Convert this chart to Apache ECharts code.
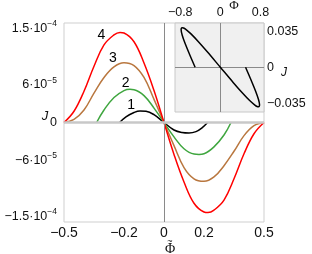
<!DOCTYPE html>
<html><head><meta charset="utf-8">
<script src="https://cdn.jsdelivr.net/npm/echarts@6/dist/echarts.min.js"></script>
<style>html,body{margin:0;padding:0;background:#fff}#c{width:312px;height:254px}</style>
</head><body><div id="c"></div>
<script>
// ---- main chart data ----
const phi4 = [-0.5,-0.45,-0.4,-0.35,-0.3,-0.25,-0.22,-0.2,-0.15,-0.1,-0.05,0,0.05,0.1,0.15,0.2,0.22,0.25,0.3,0.35,0.4,0.45,0.5];
const j4 = [0,1.8e-5,5.0e-5,9.0e-5,1.24e-4,1.40e-4,1.44e-4,1.43e-4,1.29e-4,0.95e-4,0.51e-4,0,-0.51e-4,-0.95e-4,-1.29e-4,-1.43e-4,-1.44e-4,-1.40e-4,-1.24e-4,-0.90e-4,-0.50e-4,-0.18e-4,0];
const phi3 = [-0.5,-0.45,-0.4,-0.35,-0.3,-0.25,-0.2,-0.15,-0.1,-0.05,0,0.05,0.1,0.15,0.2,0.25,0.3,0.35,0.4,0.45,0.5];
const j3 = [0,0.5e-5,2.0e-5,4.7e-5,7.2e-5,8.9e-5,9.55e-5,9.1e-5,7.2e-5,3.7e-5,0,-3.7e-5,-7.2e-5,-9.0e-5,-9.4e-5,-8.7e-5,-6.9e-5,-4.6e-5,-2.1e-5,-0.5e-5,0];
const phi2 = [-0.337,-0.3,-0.25,-0.2,-0.17,-0.15,-0.1,-0.05,0,0.05,0.1,0.15,0.175,0.2,0.25,0.3,0.335];
const j2 = [0,2.0e-5,4.0e-5,5.1e-5,5.3e-5,5.25e-5,4.3e-5,2.3e-5,0,-2.3e-5,-4.2e-5,-5.05e-5,-5.1e-5,-5.0e-5,-3.9e-5,-2.0e-5,0];
const phi1 = [-0.222,-0.19,-0.15,-0.12,-0.09,-0.05,0,0.05,0.09,0.125,0.16,0.19,0.218];
const j1 = [0,0.9e-5,1.6e-5,1.85e-5,1.8e-5,1.25e-5,0,-1.2e-5,-1.6e-5,-1.68e-5,-1.45e-5,-0.85e-5,0];

const curveNames = ['1','2','3','4'];
const curveLabelPhi = [-0.164,-0.192,-0.255,-0.313];
const curveLabelJ = [2.8e-5,6.36e-5,1.035e-4,1.40e-4];

const xTicks = [-0.5,-0.2,0,0.2,0.5];
const yTicks = [-1.5e-4,-6e-5,0,6e-5,1.5e-4];
const yTickMant = ['−1.5','−6','0','6','1.5'];
const yTickExp = ['−4','−5','','−5','−4'];

// ---- inset data ----
const insetPhi = [-0.503,-0.617,-0.702,-0.760,-0.782,-0.777,-0.761,-0.733,-0.695,-0.585,-0.437,-0.260,0,0.260,0.437,0.585,0.695,0.733,0.761,0.777,0.782,0.760,0.702,0.617,0.503];
const insetJ = [0,0.0129,0.0230,0.0311,0.0364,0.0379,0.0385,0.0382,0.0371,0.0324,0.0248,0.0150,0,-0.0150,-0.0248,-0.0324,-0.0371,-0.0382,-0.0385,-0.0379,-0.0364,-0.0311,-0.0230,-0.0129,0];
const insetXTicks = [-0.8,0,0.8];
const insetYTicks = [-0.035,0,0.035];

const zip = (a,b) => a.map((v,i)=>[v,b[i]]);
const fmtNum = v => (v===0?'0':String(v)).replace('-','−');
const sansF = "'Liberation Sans', Arial, sans-serif";
const serifF = "'Liberation Serif', 'Times New Roman', serif";

const colors = {'1':'#000000','2':'#3fa63f','3':'#b9773f','4':'#ff0000'};
const curveData = {'1':zip(phi1,j1),'2':zip(phi2,j2),'3':zip(phi3,j3),'4':zip(phi4,j4)};

const chart = echarts.init(document.getElementById('c'), null, {renderer:'canvas'});

const series = [];
series.push({type:'line', xAxisIndex:0, yAxisIndex:0, data:[], z:1, silent:true,
  markLine:{silent:true, symbol:['none','none'], label:{show:false}, animation:false,
    data:[{xAxis:0, lineStyle:{color:'#8a8a8a', width:1, type:'solid'}},
          {yAxis:0, lineStyle:{color:'#c8c8c8', width:2.5, type:'solid'}}]}});
curveNames.forEach((n,i)=>{
  series.push({type:'line', name:n, xAxisIndex:0, yAxisIndex:0, data:curveData[n],
    showSymbol:false, smooth:0.4, z:3,
    lineStyle:{color:colors[n], width:1.5}, itemStyle:{color:colors[n]},
    markPoint:{symbol:'circle', symbolSize:0, silent:true, animation:false,
      label:{show:true, position:'inside', formatter:n, color:'#000', fontSize:14, fontFamily:sansF},
      data:[{coord:[curveLabelPhi[i], curveLabelJ[i]]}]}});
});
series.push({type:'line', xAxisIndex:1, yAxisIndex:1, data:[], z:4, silent:true,
  markLine:{silent:true, symbol:['none','none'], label:{show:false}, animation:false,
    lineStyle:{color:'#8a8a8a', width:1, type:'solid'},
    data:[{xAxis:0},{yAxis:0}]}});
series.push({type:'line', xAxisIndex:1, yAxisIndex:1, data:zip(insetPhi, insetJ),
  showSymbol:false, smooth:0.3, z:5, lineStyle:{color:'#000', width:1.5}});

chart.setOption({
  animation:false,
  grid:[
    {left:64, right:48, top:23, bottom:32, show:true, borderColor:'#cfcfcf', borderWidth:1, z:0},
    {left:175, right:48, top:23, bottom:142, show:true, backgroundColor:'#f0f0f0', borderColor:'#c8c8c8', borderWidth:1, z:2}
  ],
  xAxis:[
    {type:'value', gridIndex:0, min:-0.5, max:0.5, position:'bottom',
     axisLine:{show:false}, axisTick:{show:false}, splitLine:{show:false},
     axisLabel:{customValues:xTicks, formatter:fmtNum, fontSize:14, color:'#111', margin:4, fontFamily:sansF}},
    {type:'value', gridIndex:1, min:-0.904, max:0.871, position:'top',
     axisLine:{show:false}, axisTick:{show:false}, splitLine:{show:false},
     axisLabel:{customValues:insetXTicks, formatter:fmtNum, fontSize:12.5, color:'#111', margin:4, fontFamily:sansF}}
  ],
  yAxis:[
    {type:'value', gridIndex:0, min:-1.59e-4, max:1.59e-4,
     axisLine:{show:false}, axisTick:{show:false}, splitLine:{show:false},
     axisLabel:{customValues:yTicks, margin:7, color:'#111', fontFamily:sansF,
       formatter:function(v){
         const i = yTicks.findIndex(t=>Math.abs(t-v)<1e-9);
         if(i<0) return '';
         if(yTickExp[i]==='') return '{b|'+yTickMant[i]+'}';
         return '{b|'+yTickMant[i]+'·10}{s|'+yTickExp[i]+'}';
       },
       rich:{b:{fontSize:12.5, lineHeight:18, color:'#111', fontFamily:sansF},
             s:{fontSize:8.5, verticalAlign:'top', color:'#111', fontFamily:sansF}}}},
    {type:'value', gridIndex:1, min:-0.0435, max:0.043, position:'right',
     axisLine:{show:false}, axisTick:{show:false}, splitLine:{show:false},
     axisLabel:{customValues:insetYTicks, formatter:fmtNum, fontSize:12.5, color:'#111', margin:3, fontFamily:sansF}}
  ],
  graphic:[
    {type:'text', x:170, y:249.5, z:10, style:{text:'Φ', font:'14px '+serifF, fill:'#111', textAlign:'center', textVerticalAlign:'middle'}},
    {type:'text', x:170, y:241.5, z:10, style:{text:'~', font:'9px '+sansF, fill:'#111', textAlign:'center', textVerticalAlign:'middle'}},
    {type:'text', x:45, y:116, z:10, style:{text:'J', font:'italic 13px '+sansF, fill:'#111', textAlign:'center', textVerticalAlign:'middle'}},
    {type:'text', x:234, y:6, z:10, style:{text:'Φ', font:'13px '+serifF, fill:'#111', textAlign:'center', textVerticalAlign:'middle'}},
    {type:'text', x:284, y:73, z:10, style:{text:'J', font:'italic 12px '+sansF, fill:'#111', textAlign:'center', textVerticalAlign:'middle'}}
  ],
  series:series
});
</script></body></html>
